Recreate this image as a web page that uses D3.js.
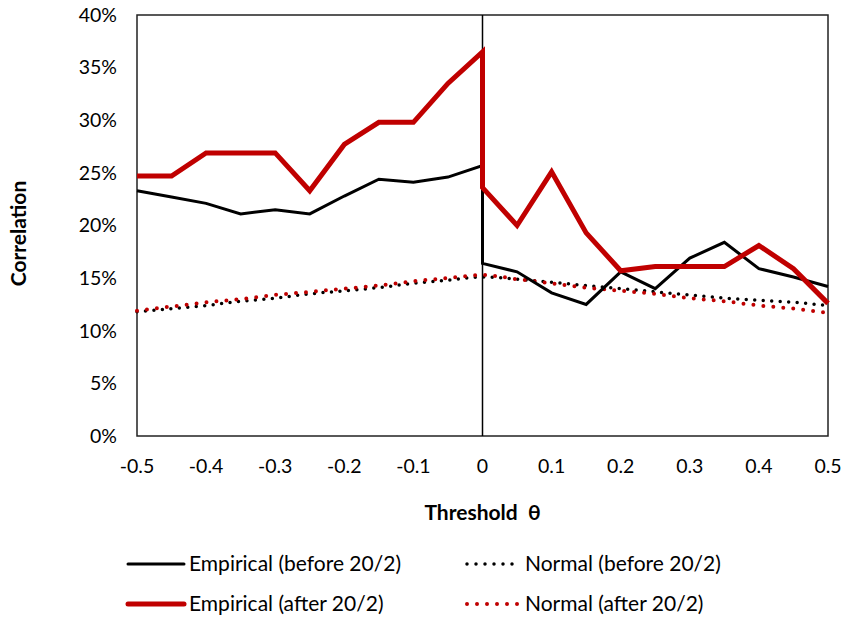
<!DOCTYPE html>
<html>
<head>
<meta charset="utf-8">
<script src="https://cdn.jsdelivr.net/npm/d3@7"></script>
<style>
  body { margin: 0; background: #fff; }
  text { font-family: Lato, "Open Sans", sans-serif; fill: #000; }
</style>
</head>
<body>
<div id="chart"></div>
<script>
// thresholds, step 0.05
const thetas = d3.range(21).map(i => +(-0.5 + i * 0.05).toFixed(2))

// empirical correlations (%) - left side ends at 0, right side starts at 0
const empBeforeLeft  = [23.3, 22.7, 22.1, 21.1, 21.5, 21.1, 22.8, 24.4, 24.1, 24.6, 25.7]
const empBeforeRight = [16.4, 15.6, 13.6, 12.5, 15.6, 14.0, 16.9, 18.4, 15.9, 15.1, 14.2]
const empAfterLeft   = [24.7, 24.7, 26.9, 26.9, 26.9, 23.3, 27.7, 29.8, 29.8, 33.5, 36.5]
const empAfterRight  = [23.6, 20.0, 25.1, 19.3, 15.7, 16.1, 16.1, 16.1, 18.1, 15.9, 12.6]

// normal model correlations (%)
const normBefore = [11.8, 12.1, 12.4, 12.8, 13.1, 13.5, 13.8, 14.1, 14.5, 14.8, 15.1,
                    14.9, 14.6, 14.3, 14.0, 13.7, 13.4, 13.1, 12.9, 12.7, 12.4]
const normAfter  = [11.9, 12.3, 12.7, 13.0, 13.4, 13.7, 14.0, 14.3, 14.7, 15.0, 15.3,
                    14.9, 14.5, 14.1, 13.8, 13.5, 13.1, 12.8, 12.4, 12.1, 11.7]

const xTicks = [-0.5, -0.4, -0.3, -0.2, -0.1, 0, 0.1, 0.2, 0.3, 0.4, 0.5]
const yTicks = [0, 5, 10, 15, 20, 25, 30, 35, 40]

const legendItems = [
  { label: 'Empirical (before 20/2)', color: '#000', width: 3, dotted: false },
  { label: 'Normal (before 20/2)', color: '#000', width: 3.5, dotted: true },
  { label: 'Empirical (after 20/2)', color: '#C00000', width: 5, dotted: false },
  { label: 'Normal (after 20/2)', color: '#C00000', width: 4, dotted: true }
]

const W = 842, H = 617
const svg = d3.select('#chart').append('svg').attr('width', W).attr('height', H)

const x = d3.scaleLinear().domain([-0.5, 0.5]).range([137, 828])
const y = d3.scaleLinear().domain([0, 40]).range([436, 15])

// series as point arrays; the empirical ones jump at 0
const leftX = thetas.slice(0, 11)
const rightX = thetas.slice(10)
function pts(xs, ys) { return xs.map((t, i) => [t, ys[i]]) }
const empBefore = pts(leftX, empBeforeLeft).concat(pts(rightX, empBeforeRight))
const empAfter = pts(leftX, empAfterLeft).concat(pts(rightX, empAfterRight))

const line = d3.line().x(d => x(d[0])).y(d => y(d[1]))
const smooth = d3.line().x(d => x(d[0])).y(d => y(d[1])).curve(d3.curveMonotoneX)

// frame
svg.append('rect')
  .attr('x', x(-0.5)).attr('y', y(40))
  .attr('width', x(0.5) - x(-0.5)).attr('height', y(0) - y(40))
  .attr('fill', 'none').attr('stroke', '#222').attr('stroke-width', 1.5)

// vertical line at theta = 0
svg.append('line')
  .attr('x1', x(0)).attr('x2', x(0)).attr('y1', y(40)).attr('y2', y(0))
  .attr('stroke', '#000').attr('stroke-width', 1.5)

// y tick labels
svg.selectAll('.ytick').data(yTicks).join('text')
  .attr('class', 'ytick')
  .attr('x', 117).attr('y', d => y(d))
  .attr('dy', '0.35em')
  .attr('text-anchor', 'end')
  .style('font-size', '19.5px')
  .text(d => d + '%')

// x tick labels
svg.selectAll('.xtick').data(xTicks).join('text')
  .attr('class', 'xtick')
  .attr('x', d => x(d)).attr('y', 466)
  .attr('dy', '0.35em')
  .attr('text-anchor', 'middle')
  .style('font-size', '19.5px')
  .text(d => d)

// axis titles
svg.append('text')
  .attr('x', x(0)).attr('y', 513)
  .attr('dy', '0.35em')
  .attr('text-anchor', 'middle')
  .style('font-size', '21px').style('font-weight', 'bold')
  .style('white-space', 'pre')
  .text('Threshold  θ')

svg.append('text')
  .attr('transform', `translate(19,${(y(0) + y(40)) / 2 + 8}) rotate(-90)`)
  .attr('dy', '0.35em')
  .attr('text-anchor', 'middle')
  .style('font-size', '21px').style('font-weight', 'bold')
  .text('Correlation')

// normal curves (dotted)
svg.append('path').datum(pts(thetas, normBefore))
  .attr('d', smooth).attr('fill', 'none')
  .attr('stroke', '#000').attr('stroke-width', 3.5)
  .attr('stroke-linecap', 'round').attr('stroke-dasharray', '0 8.5')

svg.append('path').datum(pts(thetas, normAfter))
  .attr('d', smooth).attr('fill', 'none')
  .attr('stroke', '#C00000').attr('stroke-width', 4)
  .attr('stroke-linecap', 'round').attr('stroke-dasharray', '0 10')

// empirical lines
svg.append('path').datum(empBefore)
  .attr('d', line).attr('fill', 'none')
  .attr('stroke', '#000').attr('stroke-width', 3)

svg.append('path').datum(empAfter)
  .attr('d', line).attr('fill', 'none')
  .attr('stroke', '#C00000').attr('stroke-width', 5)

// legend
const lg = svg.selectAll('.leg').data(legendItems).join('g')
  .attr('class', 'leg')
  .attr('transform', (d, i) => `translate(${i % 2 ? 465 : 128},${i < 2 ? 564 : 604})`)

lg.append('line')
  .attr('x1', d => d.dotted ? 2 : 0).attr('x2', d => d.dotted ? 55 : 56)
  .attr('stroke', d => d.color).attr('stroke-width', d => d.width)
  .attr('stroke-linecap', 'round')
  .attr('stroke-dasharray', d => d.dotted ? (d.color === '#000' ? '0 9' : '0 10') : null)

lg.append('text')
  .attr('x', d => d.dotted ? 60 : 61).attr('dy', '0.35em')
  .style('font-size', '21px')
  .text(d => d.label)
</script>
</body>
</html>
